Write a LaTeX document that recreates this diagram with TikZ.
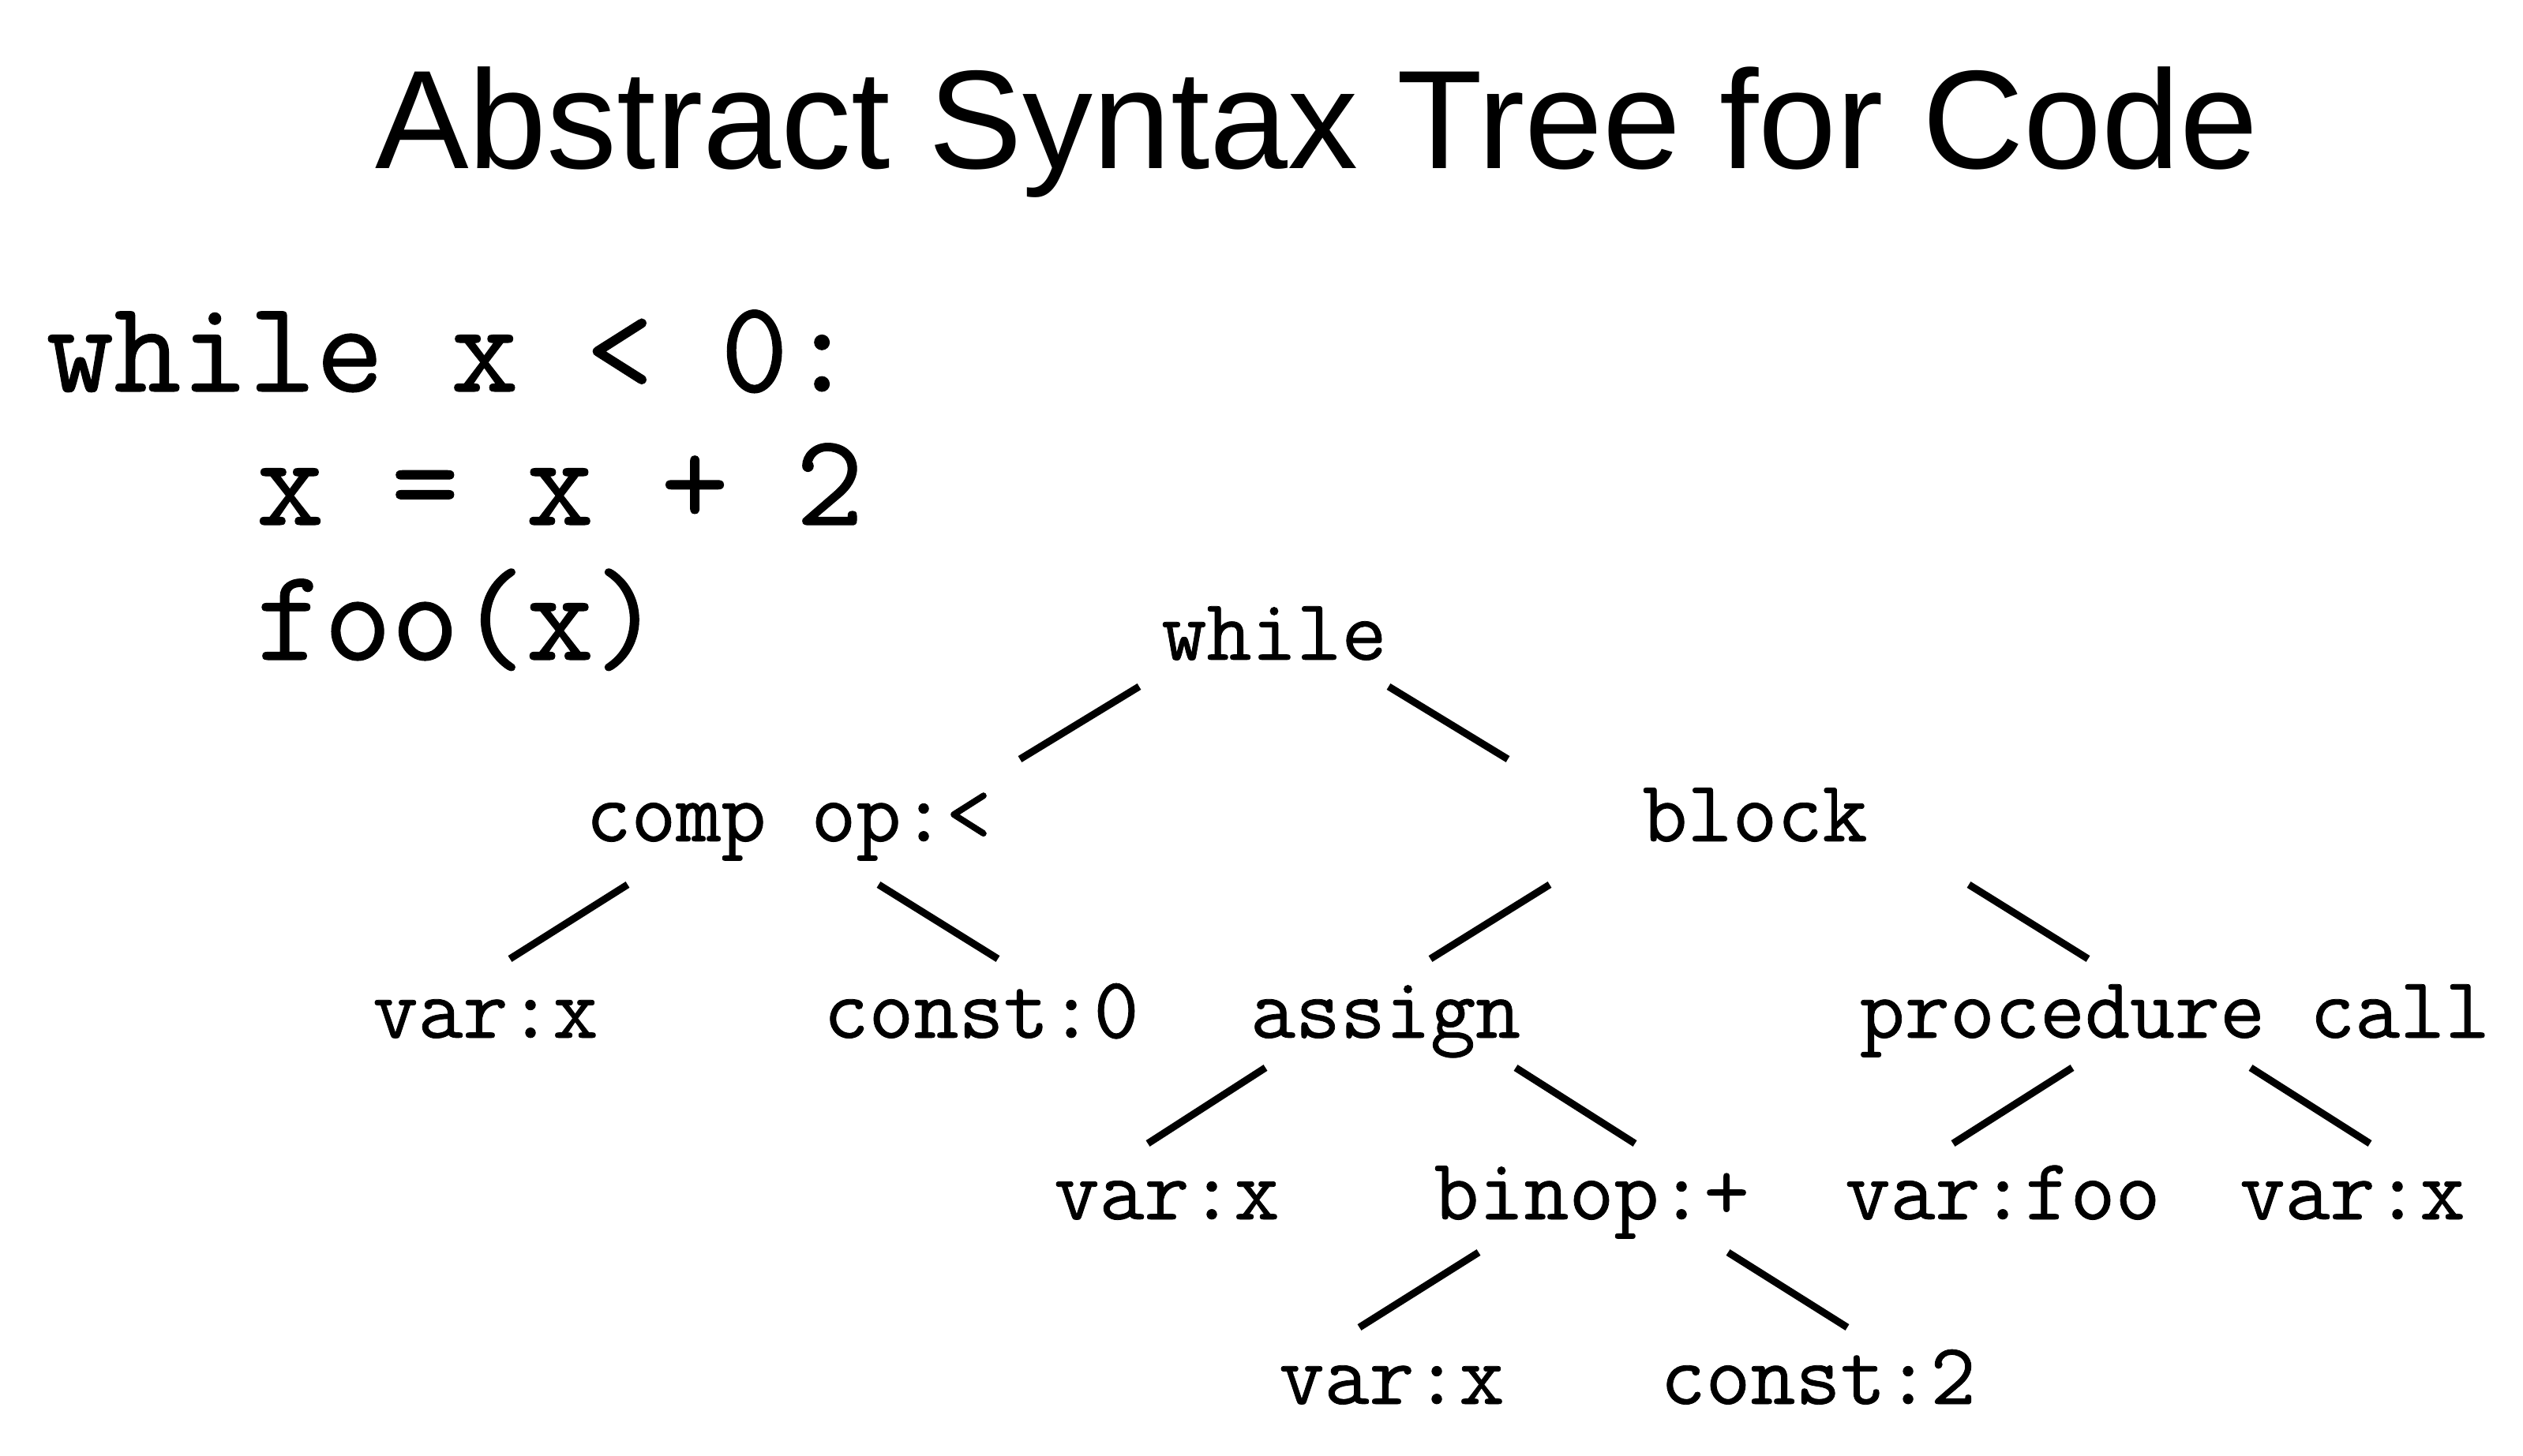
\documentclass[tikz,border=0pt]{standalone}
\usepackage{fontspec}
\newfontfamily\codefont{Latin Modern Mono}[FakeBold=0.7]
\newfontfamily\titlefont{Liberation Sans}
\usepackage{tikz}
\usetikzlibrary{positioning,calc}
\usepackage{xcolor}
\definecolor{astblack}{RGB}{0,0,0}
\tikzstyle{titletext} = [font=\titlefont\fontsize{50.6}{56}\selectfont, inner sep=0pt, anchor=base, text=astblack]
\tikzstyle{codeline} = [font=\codefont\fontsize{47.2}{54}\selectfont, inner sep=0pt, anchor=base west, text=astblack]
\tikzstyle{astnode} = [font=\codefont\fontsize{31.5}{35}\selectfont, inner sep=0pt, anchor=base, text=astblack]
\tikzstyle{branch} = [line width=2.6pt, draw=astblack]

\begin{document}
\begin{tikzpicture}
\useasboundingbox (0,0) rectangle (31.96,18.44);

% Title
\node[titletext] (title) at (16.68,16.30) {Abstract Syntax Tree for Code};

% Source code
\node[codeline] (code1) at (0.58,13.48) {while x < 0:};
\node[codeline] (code2) at ([xshift=0.1cm,yshift=-1.69cm]code1.base west) {\phantom{www}x = x + 2};
\node[codeline] (code3) at ([yshift=-1.71cm]code2.base west) {\phantom{www}foo(x)};

% Tree nodes
\node[astnode] (while)  at (16.14,10.08) {while};
\node[astnode] (comp)   at (9.99,7.78)   {comp op:<};
\node[astnode] (block)  at (22.23,7.78)  {block};
\node[astnode] (varx1)  at (6.15,5.29)   {var:x};
\node[astnode] (const0) at (12.43,5.29)  {const:0};
\node[astnode] (assign) at (17.55,5.29)  {assign};
\node[astnode] (proc)   at (27.55,5.29)  {procedure call};
\node[astnode] (varx2)  at (14.78,2.99)  {var:x};
\node[astnode] (binop)  at (20.16,2.99)  {binop:+};
\node[astnode] (varfoo) at (25.37,2.99)  {var:foo};
\node[astnode] (varx3)  at (29.80,2.99)  {var:x};
\node[astnode] (varx4)  at (17.63,0.65)  {var:x};
\node[astnode] (const2) at (23.03,0.65)  {const:2};

% Branches
\draw[branch] ([shift={(-1.71,-0.34)}]while.base) -- ([shift={(2.93,1.04)}]comp.base);
\draw[branch] ([shift={(1.45,-0.34)}]while.base) -- ([shift={(-3.13,1.04)}]block.base);
\draw[branch] ([shift={(-2.04,-0.55)}]comp.base) -- ([shift={(0.31,1.00)}]varx1.base);
\draw[branch] ([shift={(1.14,-0.55)}]comp.base) -- ([shift={(0.21,1.00)}]const0.base);
\draw[branch] ([shift={(-2.60,-0.55)}]block.base) -- ([shift={(0.57,1.00)}]assign.base);
\draw[branch] ([shift={(2.71,-0.55)}]block.base) -- ([shift={(-1.10,1.00)}]proc.base);
\draw[branch] ([shift={(-1.52,-0.38)}]assign.base) -- ([shift={(-0.24,0.96)}]varx2.base);
\draw[branch] ([shift={(1.65,-0.38)}]assign.base) -- ([shift={(0.55,0.96)}]binop.base);
\draw[branch] ([shift={(-1.30,-0.38)}]proc.base) -- ([shift={(-0.63,0.96)}]varfoo.base);
\draw[branch] ([shift={(0.96,-0.38)}]proc.base) -- ([shift={(0.22,0.96)}]varx3.base);
\draw[branch] ([shift={(-1.43,-0.42)}]binop.base) -- ([shift={(-0.41,0.97)}]varx4.base);
\draw[branch] ([shift={(1.73,-0.42)}]binop.base) -- ([shift={(0.37,0.97)}]const2.base);
\end{tikzpicture}
\end{document}
